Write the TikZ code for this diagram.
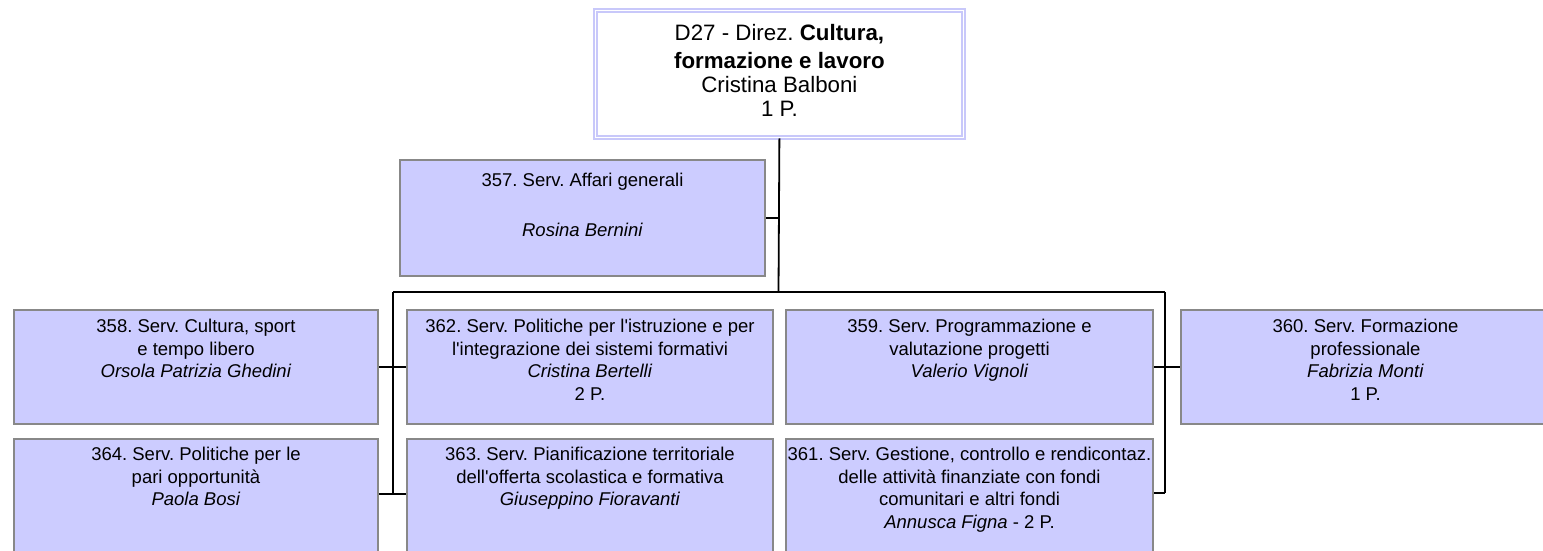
\documentclass[tikz,border=0pt]{standalone}
\usepackage{fontspec}
\setmainfont{Liberation Sans}[Ligatures=TeXOff]
\definecolor{boxfill}{HTML}{CCCCFF}
\definecolor{boxgray}{HTML}{888888}
\definecolor{lav}{HTML}{C8C8FA}
\newcommand\mybox[5]{\node[box, minimum width=#4-#2-2, minimum height=#5-#3-2] (#1) at (#2+1,#3+1) {};}
\begin{document}
\frenchspacing
\begin{tikzpicture}[x=1pt,y=-1pt,
  box/.style={draw=boxgray, fill=boxfill, line width=2pt, anchor=north west, inner sep=0pt},
  topbox/.style={draw=lav, double=white, double distance=1.5pt, line width=1.8pt, anchor=north west, inner sep=0pt},
  txt/.style={align=center, anchor=north, font=\fontsize{18.5}{22.5}\selectfont, inner sep=0pt},
  toptxt/.style={align=center, anchor=north, font=\fontsize{22.3}{24}\selectfont, inner sep=0pt},
  conn/.style={draw=black, line width=1.8pt}]
\useasboundingbox (0,0) rectangle (1543,550);
\clip (0,0) rectangle (1543,550);
% top box
\node[topbox, minimum width=368, minimum height=127] (top) at (594.5,9.5) {};
\node[toptxt, yshift=-15pt] (ttop) at (top.north) {D27 - Direz. \textbf{Cultura,}\\[4pt]\textbf{formazione e lavoro}\\Cristina Balboni\\1 P.};
% boxes
\mybox{b357}{398}{158}{765}{276}
\mybox{b358}{12}{308}{378}{424}
\mybox{b362}{405}{308}{773}{424}
\mybox{b359}{784}{308}{1153}{424}
\mybox{b360}{1179}{308}{1550}{424}
\mybox{b364}{12}{437}{378}{560}
\mybox{b363}{405}{437}{773}{560}
\mybox{b361}{784}{437}{1153}{560}
% texts
\node[txt, yshift=-14pt] (t357) at (b357.north) {357. Serv. Affari generali\\[27pt]\textit{Rosina Bernini}};
\node[txt, yshift=-10pt] (t358) at (b358.north) {358. Serv. Cultura, sport\\e tempo libero\\\textit{Orsola Patrizia Ghedini}};
\node[txt, yshift=-10pt] (t362) at (b362.north) {362. Serv. Politiche per l'istruzione e per\\l'integrazione dei sistemi formativi\\\textit{Cristina Bertelli}\\2 P.};
\node[txt, yshift=-10pt] (t359) at (b359.north) {359. Serv. Programmazione e\\valutazione progetti\\\textit{Valerio Vignoli}};
\node[txt, yshift=-10pt] (t360) at (b360.north) {360. Serv. Formazione\\professionale\\\textit{Fabrizia Monti}\\1 P.};
\node[txt, yshift=-9pt] (t364) at (b364.north) {364. Serv. Politiche per le\\pari opportunità\\\textit{Paola Bosi}};
\node[txt, yshift=-9pt] (t363) at (b363.north) {363. Serv. Pianificazione territoriale\\dell'offerta scolastica e formativa\\\textit{Giuseppino Fioravanti}};
\node[txt, yshift=-9pt] (t361) at (b361.north) {361. Serv. Gestione, controllo e rendicontaz.\\delle attività finanziate con fondi\\comunitari e altri fondi\\\textit{Annusca Figna} - 2 P.};
% junction coordinates
\coordinate (jT) at (778.5,292);
\coordinate (jL) at (393,292);
\coordinate (jR) at (1165,292);
\coordinate (jL2) at (393,494);
\coordinate (jR2) at (1165,493);
% connectors
\draw[conn] (top.south) -- (jT);
\draw[conn] (b357.east) -- (b357.east -| jT);
\draw[conn] (jL) -- (jR);
\draw[conn] (jL) -- (jL2);
\draw[conn] (jR) -- (jR2);
\draw[conn] (b358.east) -- (b362.west);
\draw[conn] (b364.east |- jL2) -- (b363.west |- jL2);
\draw[conn] (b359.east) -- (b360.west);
\draw[conn] (b361.east |- jR2) -- (jR2);
\end{tikzpicture}
\end{document}
